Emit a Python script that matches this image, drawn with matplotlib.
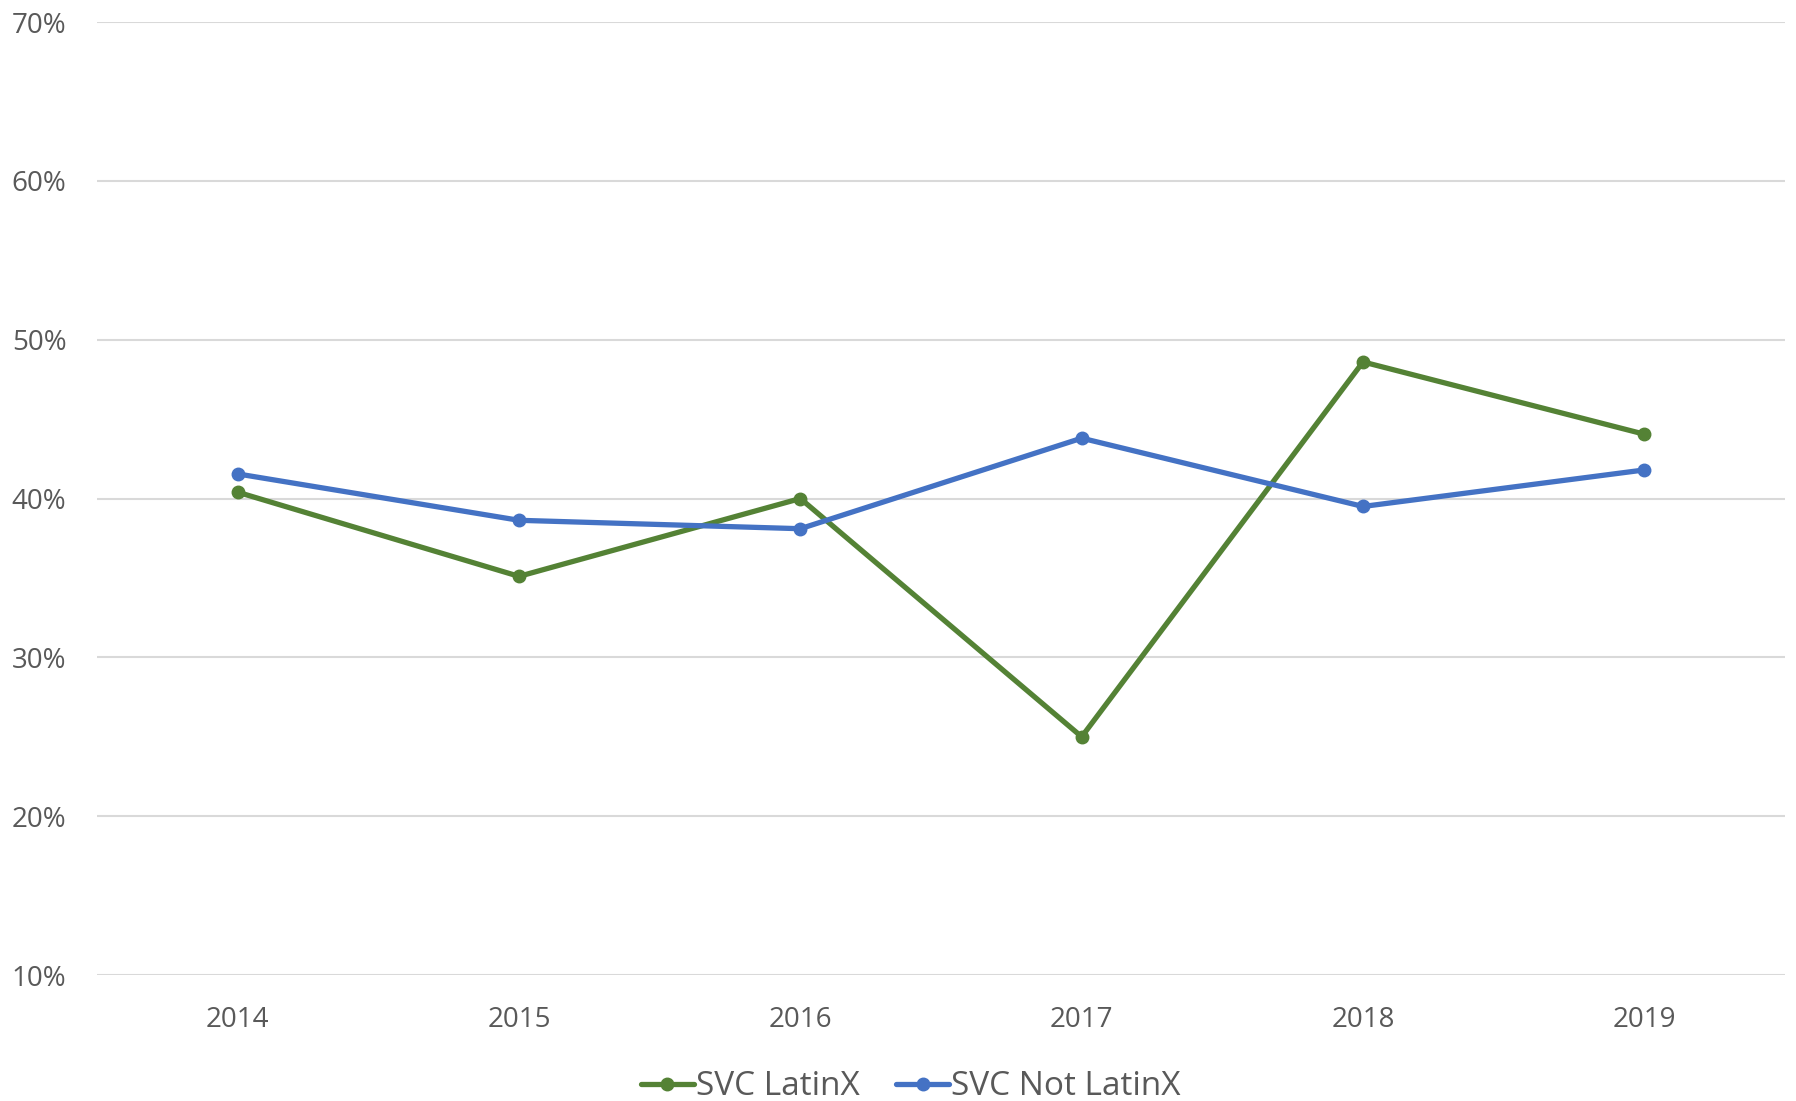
import matplotlib.pyplot as plt
from matplotlib.ticker import FuncFormatter

plt.rcParams['font.family'] = ['Open Sans', 'DejaVu Sans']

# data
years = ['2014', '2015', '2016', '2017', '2018', '2019']
latinx = [40.4, 35.1, 40.0, 25.0, 48.6, 44.05]
not_latinx = [41.55, 38.63, 38.1, 43.8, 39.5, 41.8]

green = '#548235'
blue = '#4472C4'
grey = '#595959'

fig = plt.figure(figsize=(17.96, 11.01), dpi=100)
ax = fig.add_axes([0.054, 0.1144, 0.9399, 0.8656])

x = range(len(years))
ax.plot(x, latinx, color=green, lw=3.8, marker='o', ms=9, label='SVC LatinX',
        solid_capstyle='round', zorder=3)
ax.plot(x, not_latinx, color=blue, lw=3.8, marker='o', ms=9, label='SVC Not LatinX',
        solid_capstyle='round', zorder=3)

ax.set_xlim(-0.5, len(years) - 0.5)
ax.set_ylim(10, 70)
ax.set_yticks(range(10, 71, 10))
ax.yaxis.set_major_formatter(FuncFormatter(lambda v, p: '%d%%' % v))
ax.set_xticks(list(x))
ax.set_xticklabels(years)

ax.grid(axis='y', color='#D9D9D9', lw=1.5, zorder=0)
for s in ax.spines.values():
    s.set_visible(False)
ax.tick_params(axis='both', length=0, colors=grey, labelsize=20)
ax.tick_params(axis='y', pad=22)
ax.tick_params(axis='x', pad=22)

leg = fig.legend(loc='center', bbox_to_anchor=(0.507, 0.013), ncol=2, frameon=False,
                 fontsize=24, handlelength=1.6, handletextpad=0.05, columnspacing=1.1)
for t in leg.get_texts():
    t.set_color(grey)

fig.savefig('out.png', dpi=100, facecolor='white')
